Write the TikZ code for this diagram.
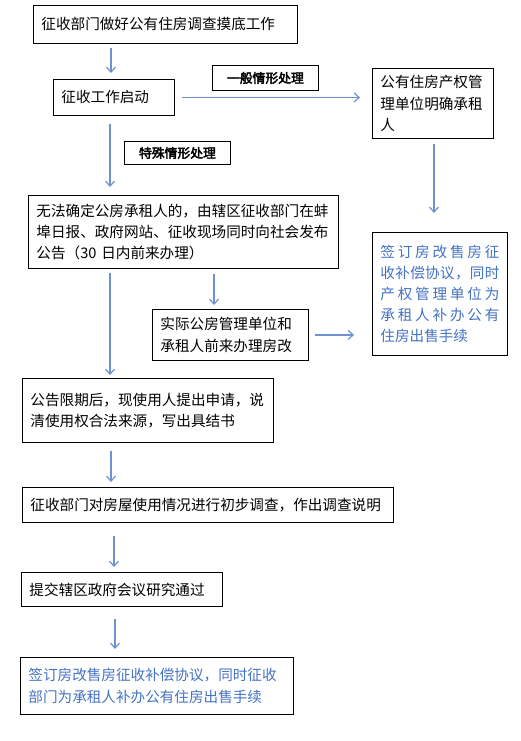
\documentclass[tikz,border=0pt]{standalone}
\usepackage{fontspec}
\setmainfont{Noto Sans CJK SC}
\newfontfamily\cjkbold{Noto Sans CJK SC}[FakeBold=3]
\usetikzlibrary{arrows.meta,calc}
\definecolor{arrblue}{RGB}{110,145,210}
\definecolor{txtblue}{RGB}{68,114,196}
\tikzset{
  box/.style={draw=black, line width=0.9pt, anchor=north west, inner xsep=8pt, inner ysep=0pt,
    align=left, font=\fontsize{14.6}{21.2}\selectfont},
  lbl/.style={draw=black, line width=0.9pt, anchor=north west, inner sep=0pt,
    font=\cjkbold\fontsize{12.8}{14}\selectfont},
  arr/.style={draw=arrblue, line width=1.2pt, -{Straight Barb[length=5pt,width=9pt]}},
}
\newcommand{\bx}[6]{\node[box, minimum width=#4pt, minimum height=#5pt, text width=#4pt-16pt] (#1) at (#2,#3) {#6};}
\begin{document}
\begin{tikzpicture}[x=1pt,y=-1pt]
\useasboundingbox (0,0) rectangle (520,741);
\bx{b1}{33}{5}{264}{38}{征收部门做好公有住房调查摸底工作}
\bx{b2}{53}{79}{121}{36}{征收工作启动}
\bx{rb}{372}{68}{121}{70}{公有住房产权管\\理单位明确承租\\人}
\node[lbl, minimum width=106pt, minimum height=25pt] (l1) at (212,65) {一般情形处理};
\node[lbl, minimum width=106pt, minimum height=23pt] (l2) at (124,141) {特殊情形处理};
\bx{b3}{28}{195}{310}{73}{无法确定公房承租人的，由辖区征收部门在蚌\\埠日报、政府网站、征收现场同时向社会发布\\公告（30 日内前来办理）}
\bx{bb}{372}{232}{135}{123}{\color{txtblue}%
\makebox[\linewidth][s]{签\hfill 订\hfill 房\hfill 改\hfill 售\hfill 房\hfill 征}\\
\makebox[\linewidth][s]{收\hfill 补\hfill 偿\hfill 协\hfill 议\hfill ，\hfill 同\hfill 时}\\
\makebox[\linewidth][s]{产\hfill 权\hfill 管\hfill 理\hfill 单\hfill 位\hfill 为}\\
\makebox[\linewidth][s]{承\hfill 租\hfill 人\hfill 补\hfill 办\hfill 公\hfill 有}\\
住房出售手续}
\bx{sb}{152}{309}{156}{51}{实际公房管理单位和\\承租人前来办理房改}
\bx{b4}{22}{378}{251}{64}{公告限期后，现使用人提出申请，说\\清使用权合法来源，写出具结书}
\bx{b5}{22}{487}{371}{35}{征收部门对房屋使用情况进行初步调查，作出调查说明}
\bx{b6}{21}{572}{201}{34}{提交辖区政府会议研究通过}
\bx{b7}{20}{657}{273}{57}{\color{txtblue}签订房改售房征收补偿协议，同时征收\\部门为承租人补办公有住房出售手续}
% connectors
\coordinate (c1) at ($(b1.south west)+(78,0)$);
\draw[arr, shorten <=4pt, shorten >=6pt] (c1) -- (c1 |- b2.north);
\draw[arr, shorten <=7pt, shorten >=12pt] (b2.east) -- (b2.east -| rb.west);
\coordinate (c3) at ($(b2.south west)+(57,0)$);
\draw[arr, shorten <=8pt, shorten >=8pt] (c3) -- (c3 |- b3.north);
\coordinate (c4) at ($(rb.south west)+(62,0)$);
\draw[arr, shorten <=5pt, shorten >=19pt] (c4) -- (c4 |- bb.north);
\coordinate (c5) at ($(b3.south west)+(186,0)$);
\draw[arr, shorten <=5pt, shorten >=4pt] (c5) -- (c5 |- sb.north);
\draw[arr, shorten <=6pt, shorten >=18pt] (sb.east) -- (sb.east -| bb.west);
\coordinate (c7) at ($(b3.south west)+(82,0)$);
\draw[arr, shorten <=4pt, shorten >=3pt] (c7) -- (c7 |- b4.north);
\coordinate (c8) at ($(b4.south west)+(89,0)$);
\draw[arr, shorten <=8pt, shorten >=5pt] (c8) -- (c8 |- b5.north);
\coordinate (c9) at ($(b5.south west)+(92,0)$);
\draw[arr, shorten <=13pt, shorten >=5pt] (c9) -- (c9 |- b6.north);
\coordinate (c10) at ($(b6.south west)+(94,0)$);
\draw[arr, shorten <=12pt, shorten >=8pt] (c10) -- (c10 |- b7.north);
\end{tikzpicture}
\end{document}
